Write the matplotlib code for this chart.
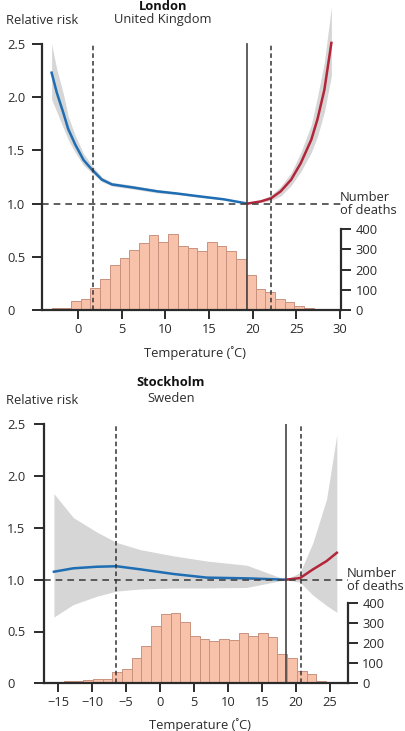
import matplotlib
matplotlib.use("Agg")
import matplotlib.pyplot as plt
import numpy as np

plt.rcParams["font.family"] = ["Open Sans", "DejaVu Sans"]
plt.rcParams["font.size"] = 9.3

# ---- London data -------------------------------------------------------
lon_cold_t = [-3.0, -2.4, -1.65, -1.1, -0.3, 0.65, 1.6, 2.75, 3.9, 6.4, 9.1, 11.4, 13.7, 16.7, 19.4]
lon_cold_rr = [2.23, 2.04, 1.85, 1.70, 1.555, 1.41, 1.32, 1.225, 1.18, 1.15, 1.115, 1.094, 1.07, 1.04, 1.0]
lon_cold_hi = [2.50, 2.26, 2.03, 1.82, 1.64, 1.47, 1.36, 1.25, 1.20, 1.17, 1.13, 1.105, 1.08, 1.045, 1.0]
lon_cold_lo = [1.98, 1.86, 1.71, 1.60, 1.48, 1.36, 1.29, 1.205, 1.165, 1.135, 1.10, 1.085, 1.06, 1.035, 1.0]

lon_heat_t = [19.4, 20.9, 22.1, 23.2, 24.4, 25.5, 26.7, 27.4, 28.2, 29.0]
lon_heat_rr = [1.0, 1.02, 1.05, 1.115, 1.225, 1.38, 1.60, 1.79, 2.07, 2.51]
lon_heat_hi = [1.0, 1.03, 1.08, 1.16, 1.29, 1.48, 1.74, 2.00, 2.33, 2.85]
lon_heat_lo = [1.0, 1.01, 1.03, 1.07, 1.17, 1.30, 1.48, 1.63, 1.86, 2.20]

lon_deaths = [12, 12, 43, 52, 110, 152, 222, 258, 297, 330, 368, 337, 377, 317,
              308, 292, 338, 317, 292, 252, 175, 102, 88, 55, 38, 22, 8]
lon_bin_range = (-3.0, 27.0)
lon_vlines = [1.7, 22.1]   # dashed percentiles
lon_mmt = 19.4              # minimum mortality temperature

# ---- Stockholm data ----------------------------------------------------
sto_cold_t = [-15.6, -12.75, -9.3, -6.4, -2.9, 2.0, 6.9, 12.75, 18.5]
sto_cold_rr = [1.077, 1.11, 1.125, 1.13, 1.10, 1.055, 1.02, 1.013, 1.0]
sto_cold_hi = [1.83, 1.60, 1.46, 1.36, 1.29, 1.23, 1.18, 1.14, 1.0]
sto_cold_lo = [0.64, 0.76, 0.84, 0.89, 0.91, 0.92, 0.92, 0.925, 1.0]

sto_heat_t = [18.5, 20.6, 22.5, 24.5, 26.0]
sto_heat_rr = [1.0, 1.016, 1.10, 1.18, 1.26]
sto_heat_hi = [1.0, 1.07, 1.36, 1.78, 2.40]
sto_heat_lo = [1.0, 0.975, 0.85, 0.75, 0.685]

sto_deaths = [5, 7, 13, 13, 17, 22, 22, 58, 70, 125, 184, 284, 343, 352, 305,
              238, 222, 213, 222, 217, 252, 238, 252, 233, 147, 127, 63, 47, 13]
sto_bin_range = (-17.0, 24.4)
sto_vlines = [-6.4, 20.7]
sto_mmt = 18.5

BLUE = "#1f6db3"
RED = "#b3263a"
BAND = "#d6d6d6"
BAR = "#f8c2aa"
BAR_EDGE = "#c9927f"
INK = "#2b2b2b"


def draw_panel(rect, xlim, ytop, xticks, deaths_per_rr, label_pad,
               cold, heat, deaths, bin_range, vlines, mmt):
    ax = fig.add_axes(rect)
    tw = ax.twinx()

    # histogram of daily deaths on the twin axis
    edges = np.linspace(bin_range[0], bin_range[1], len(deaths) + 1)
    tw.bar(edges[:-1], deaths, width=np.diff(edges), align="edge",
           color=BAR, edgecolor=BAR_EDGE, linewidth=0.7)
    tw.set_ylim(0, ytop * deaths_per_rr)
    tw.set_yticks([0, 100, 200, 300, 400])
    tw.spines["right"].set_bounds(0, 400)
    for s in ["top", "left", "bottom"]:
        tw.spines[s].set_visible(False)
    tw.spines["right"].set_linewidth(1.6)
    tw.spines["right"].set_color(INK)
    tw.tick_params(axis="y", direction="out", length=7.5, width=1.4,
                   colors=INK, labelsize=9.3, pad=3)

    ax.set_zorder(tw.get_zorder() + 1)
    ax.patch.set_visible(False)

    ct, crr, chi, clo = cold
    ht, hrr, hhi, hlo = heat
    ax.fill_between(ct, clo, chi, color=BAND, lw=0)
    ax.fill_between(ht, hlo, hhi, color=BAND, lw=0)
    ax.plot(ct, crr, color=BLUE, lw=1.8)
    ax.plot(ht, hrr, color=RED, lw=1.8)

    ax.axhline(1.0, color="#444444", lw=1.2, ls=(0, (4, 3)))
    for v in vlines:
        ax.plot([v, v], [0, 2.5], color="#333333", lw=1.1, ls=(0, (3, 2)))
    ax.plot([mmt, mmt], [0, 2.5], color="#444444", lw=1.2)

    ax.set_xlim(*xlim)
    ax.set_ylim(0, ytop)
    ax.set_xticks(xticks)
    ax.set_xticklabels([str(t).replace("-", "\u2212") for t in xticks])
    ax.set_yticks([0, 0.5, 1.0, 1.5, 2.0, 2.5])
    ax.set_yticklabels(["0", "0.5", "1.0", "1.5", "2.0", "2.5"])
    for lbl in ax.get_yticklabels():
        lbl.set_horizontalalignment("left")
    ax.spines["left"].set_bounds(0, 2.5)
    for s in ["top", "right"]:
        ax.spines[s].set_visible(False)
    for s in ["left", "bottom"]:
        ax.spines[s].set_linewidth(1.6)
        ax.spines[s].set_color(INK)
    ax.tick_params(axis="y", direction="out", length=7.2, width=1.4,
                   colors=INK, labelsize=9.3, pad=label_pad)
    ax.tick_params(axis="x", direction="out", length=6.5, width=1.4,
                   colors=INK, labelsize=9.3, pad=3)
    return ax


fig = plt.figure(figsize=(4.05, 7.31), dpi=100)

draw_panel([42 / 405, 421 / 731, 299 / 405, 303.3 / 731], (-4.1, 30.1), 2.85,
           [0, 5, 10, 15, 20, 25, 30], 525.6, 18.0,
           (lon_cold_t, lon_cold_rr, lon_cold_hi, lon_cold_lo),
           (lon_heat_t, lon_heat_rr, lon_heat_hi, lon_heat_lo),
           lon_deaths, lon_bin_range, lon_vlines, lon_mmt)

draw_panel([44 / 405, 47.7 / 731, 303.7 / 405, 259 / 731], (-17.06, 27.6), 2.5,
           [-15, -10, -5, 0, 5, 10, 15, 20, 25], 516.0, 19.4,
           (sto_cold_t, sto_cold_rr, sto_cold_hi, sto_cold_lo),
           (sto_heat_t, sto_heat_rr, sto_heat_hi, sto_heat_lo),
           sto_deaths, sto_bin_range, sto_vlines, sto_mmt)


def ftext(x, y, s, **kw):
    kw.setdefault("color", INK)
    kw.setdefault("fontsize", 9.3)
    fig.text(x / 405, 1 - y / 731, s, va="center", **kw)


ftext(163, 6, "London", ha="center", fontweight="bold", color="#111111")
ftext(163, 20, "United Kingdom", ha="center")
ftext(6, 21, "Relative risk", ha="left")
ftext(340, 204, "Number\nof deaths", ha="left", linespacing=1.0)
ftext(195, 353, "Temperature (\u02daC)", ha="center")

ftext(171, 383, "Stockholm", ha="center", fontweight="bold", color="#111111")
ftext(171, 399, "Sweden", ha="center")
ftext(6, 400, "Relative risk", ha="left")
ftext(347, 580, "Number\nof deaths", ha="left", linespacing=1.0)
ftext(200, 725, "Temperature (\u02daC)", ha="center")

fig.savefig("out.png", dpi=100)
